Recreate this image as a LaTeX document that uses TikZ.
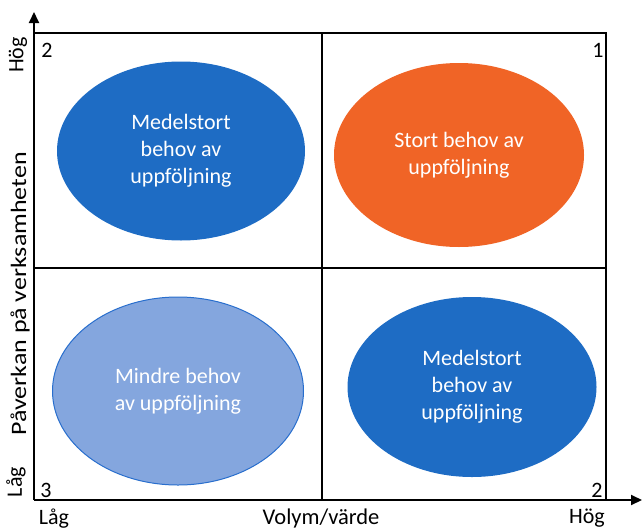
\documentclass[tikz,border=0pt]{standalone}
\usepackage{fontspec}
\setmainfont{Carlito}
\usepackage{tikz}
\usetikzlibrary{shapes.geometric,arrows.meta}
\definecolor{midblue}{RGB}{30,108,196}
\definecolor{hotorange}{RGB}{240,100,38}
\definecolor{paleblue}{RGB}{132,166,222}
\definecolor{edgeblue}{RGB}{40,110,205}
\newcommand{\labelFont}[0]{\fontsize{22}{27}\selectfont}

\begin{document}
\begin{tikzpicture}[x=1pt, y=-1pt, font=\labelFont]
  \tikzset{
    need/.style={ellipse, inner sep=0pt, align=center, text=white,
      minimum width=249pt, minimum height=182pt},
    axisline/.style={line width=2pt, -{Triangle[length=11pt, width=10pt]}},
    gridline/.style={line width=1.1pt}
  }
  \useasboundingbox (0,0) rectangle (642,530);
  \coordinate (origin) at (34,500);
  \coordinate (ytip) at (34,12);
  \coordinate (xtip) at (642,500);
  \coordinate (topleft) at (34,33);
  \coordinate (topright) at (606,33);
  \coordinate (botright) at (606,500);
  \coordinate (midtop) at (322,33);
  \coordinate (midbot) at (322,500);
  \coordinate (midleft) at (34,268);
  \coordinate (midright) at (606,268);
  \draw[gridline] (topleft) -- (topright) -- (botright);
  \draw[gridline] (midtop) -- (midbot);
  \draw[gridline] (midleft) -- (midright);
  \draw[axisline] (origin) -- (ytip);
  \draw[axisline] (origin) -- (xtip);
  \node[need, fill=midblue, minimum width=248pt, minimum height=179pt] (q2) at (181,151) {Medelstort\\behov av\\uppföljning};
  \node[need, fill=hotorange, minimum width=250pt, minimum height=184pt] (q1) at (459,155) {Stort behov av\\uppföljning};
  \node[need, fill=paleblue, draw=edgeblue, line width=1pt, minimum width=251pt, minimum height=188pt] (q3) at (178,391) {Mindre behov\\av uppföljning};
  \node[need, fill=midblue, minimum width=249pt, minimum height=180pt] (q4) at (472,387) {Medelstort\\behov av\\uppföljning};
  \node (n2) at (47,50) {2};
  \node (n1) at (598,50) {1};
  \node (n3) at (46,490) {3};
  \node (n2b) at (597,490) {2};
  \node[rotate=90] (yhigh) at (18,55) {Hög};
  \node[rotate=90] (ylow) at (16,482) {Låg};
  \node[rotate=90] (ytitle) at (20,294) {\scalebox{1.18}[1]{Påverkan på verksamheten}};
  \node (xlow) at (54,519) {Låg};
  \node (xhigh) at (587,518) {Hög};
  \node[font=\fontsize{22.5}{27}\selectfont] (xtitle) at (321,518) {Volym/värde};
\end{tikzpicture}
\end{document}
